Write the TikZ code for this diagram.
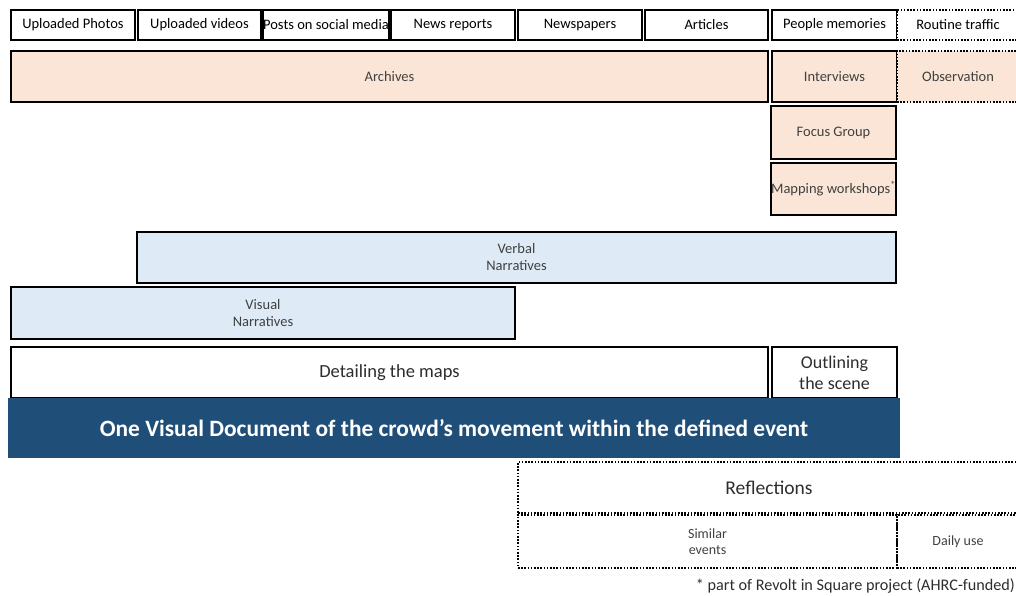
\documentclass[tikz,border=0pt]{standalone}
\usepackage{fontspec}
\setmainfont{Carlito}
\usetikzlibrary{positioning}
\definecolor{archPeach}{HTML}{FBE5D6}
\definecolor{narrBlue}{HTML}{DEEBF7}
\definecolor{bandBlue}{HTML}{1F4E79}
\definecolor{textGray}{HTML}{404040}

\tikzset{
  srcbox/.style={draw=black, line width=1.8pt, fill=white, inner sep=0pt,
    minimum height=30pt, font=\fontsize{14.5}{16}\selectfont},
  methodbox/.style={draw=black, line width=1.8pt, fill=archPeach, inner sep=0pt,
    text=textGray, font=\fontsize{14.5}{16}\selectfont},
  narrbox/.style={draw=black, line width=1.6pt, fill=narrBlue, inner sep=0pt,
    text=textGray, align=center, font=\fontsize{14.5}{17}\selectfont},
  mapbox/.style={draw=black, line width=2.6pt, fill=white, inner sep=0pt,
    text=textGray!70!black, align=center, font=\fontsize{18.5}{21}\selectfont},
  dotbox/.style={draw=black, line width=2pt, dash pattern=on 1.6pt off 1.6pt,
    inner sep=0pt},
}

\begin{document}
\begin{tikzpicture}[x=1pt, y=-1pt]
  \useasboundingbox (0,0) rectangle (1016,595);
  % sources
  \node[srcbox, minimum width=124pt] (photos) at (73,25) {Uploaded Photos};
  \node[srcbox, minimum width=123pt] (videos) at (199.5,25) {Uploaded videos};
  \node[srcbox, minimum width=124pt] (posts) at (326,25) {Posts on social media};
  \node[srcbox, minimum width=124pt] (news) at (453,25) {News reports};
  \node[srcbox, minimum width=124pt] (papers) at (580,25) {Newspapers};
  \node[srcbox, minimum width=123pt] (articles) at (706.5,25) {Articles};
  \node[srcbox, minimum width=125pt] (memories) at (834.5,25) {People memories};
  \node[srcbox, dotbox, minimum width=122pt] (traffic) at (958,25) {Routine traffic};
  % methods
  \node[methodbox, minimum width=757pt, minimum height=51pt] (archives) at (389.5,76.5) {Archives};
  \node[methodbox, minimum width=125pt, minimum height=51pt] (interviews) at (834.5,76.5) {Interviews};
  \node[methodbox, dotbox, minimum width=122pt, minimum height=51pt] (observation) at (958,76.5) {Observation};
  \node[methodbox, minimum width=125pt, minimum height=53pt] (focus) at (833.5,132.5) {Focus Group};
  \node[methodbox, minimum width=125pt, minimum height=52pt] (mapping) at (833.5,189) {Mapping workshops\textsuperscript{*}};
  % narratives
  \node[narrbox, minimum width=759pt, minimum height=51pt] (verbal) at (516.5,257.5) {Verbal\\Narratives};
  \node[narrbox, minimum width=504pt, minimum height=52pt] (visual) at (263,313) {Visual\\Narratives};
  % maps
  \node[mapbox, minimum width=757pt, minimum height=51pt] (detailing) at (389.5,372.5) {Detailing the maps};
  \node[mapbox, minimum width=125pt, minimum height=51pt, font=\fontsize{18}{21}\selectfont] (outlining) at (834.5,372.5) {Outlining\\the scene};
  % output
  \node[fill=bandBlue, text=white, minimum width=892pt, minimum height=60pt, inner sep=0pt,
    font=\fontsize{23.4}{26}\selectfont\bfseries] (document) at (454,428)
    {One Visual Document of the crowd’s movement within the defined event};
  % reflections
  \node[dotbox, minimum width=502pt, minimum height=51pt, text=textGray!70!black,
    font=\fontsize{19.5}{22}\selectfont] (reflections) at (769,487.5) {Reflections};
  \node[dotbox, minimum width=379pt, minimum height=53pt, text=textGray, align=center,
    font=\fontsize{14}{16.5}\selectfont] (similar) at (707.5,541.5) {Similar\\events};
  \node[dotbox, minimum width=122pt, minimum height=53pt, text=textGray,
    font=\fontsize{14}{16}\selectfont] (daily) at (958,541.5) {Daily use};
  \node[anchor=east, inner sep=0pt, text=textGray!70!black,
    font=\fontsize{16.2}{18}\selectfont] (note) at (1015,586) {* part of Revolt in Square project (AHRC-funded)};
\end{tikzpicture}
\end{document}
